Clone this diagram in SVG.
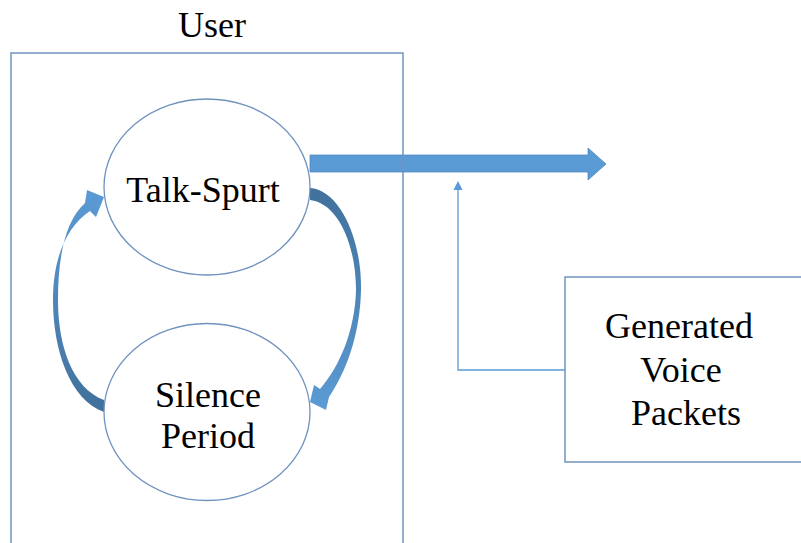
<svg xmlns="http://www.w3.org/2000/svg" width="801" height="543" viewBox="0 0 801 543">
<style>
.lbl{font-family:"Liberation Serif","Times New Roman",serif;font-size:36px;fill:#000;text-anchor:middle}
.box{fill:none;stroke:#7092BE;stroke-width:1.5}
.ell{fill:#fff;stroke:#7092BE;stroke-width:1.3}
.thin{fill:none;stroke:#5B9BD5;stroke-width:1.3}
</style>
<defs>
<linearGradient id="gL" x1="0" y1="0" x2="0" y2="1">
<stop offset="0" stop-color="#5B9BD5"/><stop offset="1" stop-color="#41719C"/>
</linearGradient>
<linearGradient id="gR" x1="0" y1="0" x2="0" y2="1">
<stop offset="0" stop-color="#41719C"/><stop offset="1" stop-color="#5B9BD5"/>
</linearGradient>
</defs>
<g id="connectors">
<path d="M310,155 H588 V148 L606,164 L588,180 V172 H310 Z" fill="#5B9BD5" stroke="#4F86C0" stroke-width="0.75"/>
<polyline class="thin" points="565,370 458,370 458,189"/>
<polygon points="458,181 453.5,190 462.5,190" fill="#5B9BD5"/>
<path d="M310,188 C340,190 362,240 361,290 C360,335 346,372 329,397 L326,410 L310,402 L314,385 L320,389 C340,366 355,330 356,290 C356,245 338,203 310,200 Z" fill="url(#gR)"/>
<path d="M104,412 C70,400 53,350 53,300 C53,260 65,228 90,211 L96,217 L104,197 L87,190 L85,203 C64,222 58,260 58,300 C58,345 72,388 104,400 Z" fill="url(#gL)"/>
</g>
<g id="user">
<rect class="box" x="11" y="53" width="392" height="500"/>
<text class="lbl" x="212" y="37">User</text>
</g>
<g id="talk-spurt">
<ellipse class="ell" cx="207" cy="187" rx="103" ry="88"/>
<text class="lbl" x="203" y="202">Talk-Spurt</text>
</g>
<g id="silence-period">
<ellipse class="ell" cx="207" cy="412" rx="103" ry="88.5"/>
<text class="lbl" x="208" y="407">Silence</text>
<text class="lbl" x="208" y="448">Period</text>
</g>
<g id="generated-voice-packets">
<rect class="box" x="565" y="277" width="250" height="185" fill="#fff"/>
<text class="lbl" x="679" y="338">Generated</text>
<text class="lbl" x="681" y="382">Voice</text>
<text class="lbl" x="686" y="425">Packets</text>
</g>
</svg>
